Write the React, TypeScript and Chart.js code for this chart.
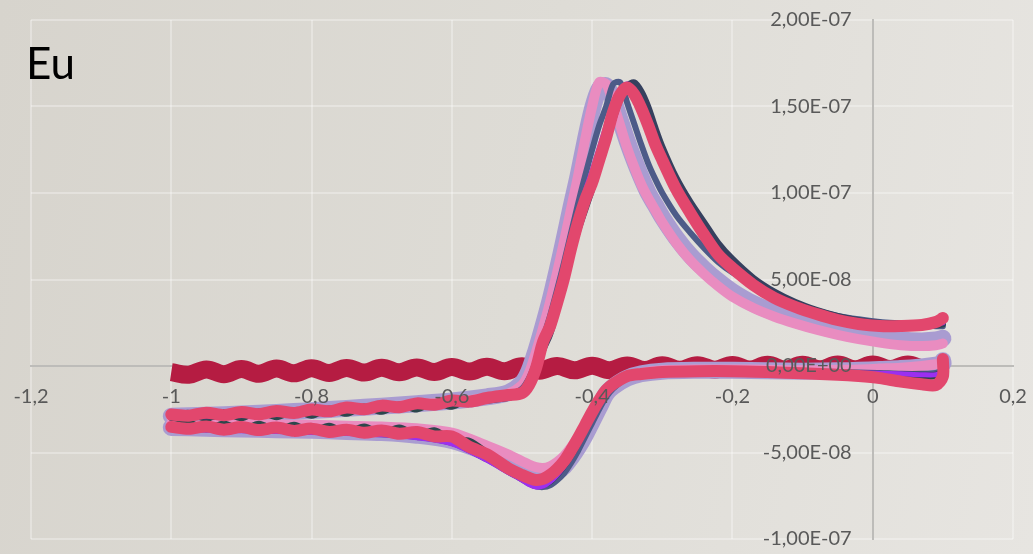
import React, { useEffect, useRef } from "react";
import { Chart, registerables } from "chart.js";

Chart.register(...registerables);

// Potentials (V) of the forward (anodic) and reverse (cathodic) sweeps
const anodicV = [-1.0, -0.95, -0.9, -0.85, -0.8, -0.75, -0.7, -0.65, -0.6, -0.55, -0.52, -0.5, -0.49, -0.48, -0.47, -0.46, -0.45, -0.44, -0.43, -0.42, -0.41, -0.4, -0.39, -0.38, -0.37, -0.36, -0.35, -0.34, -0.33, -0.32, -0.31, -0.3, -0.28, -0.26, -0.24, -0.22, -0.2, -0.17, -0.14, -0.11, -0.08, -0.05, -0.02, 0.01, 0.04, 0.07, 0.09, 0.1];
const cathodicV = [0.1, 0.1, 0.09, 0.07, 0.04, 0.01, -0.02, -0.05, -0.1, -0.15, -0.2, -0.25, -0.3, -0.33, -0.35, -0.37, -0.38, -0.39, -0.4, -0.41, -0.42, -0.43, -0.44, -0.45, -0.46, -0.47, -0.48, -0.49, -0.5, -0.52, -0.55, -0.6, -0.65, -0.7, -0.75, -0.8, -0.85, -0.9, -0.95, -1.0];
// Finer potentials for the rippled low-potential ends of the two top-most scans
const anodicLeftV = [-1.0, -0.975, -0.95, -0.925, -0.9, -0.875, -0.85, -0.825, -0.8, -0.775, -0.75, -0.725, -0.7, -0.675, -0.65, -0.625, -0.6, -0.575, -0.55];
const cathodicLeftV = [-0.55, -0.575, -0.6, -0.625, -0.65, -0.675, -0.7, -0.725, -0.75, -0.775, -0.8, -0.825, -0.85, -0.875, -0.9, -0.925, -0.95, -0.975, -1.0];

// Currents in units of 1E-08 A
// red scan: anodic from -0.52 V, cathodic down to -0.52 V, plus rippled ends
const redAnodicLeft = [-2.8, -2.87, -2.7, -2.84, -2.66, -2.79, -2.6, -2.72, -2.52, -2.62, -2.4, -2.5, -2.29, -2.38, -2.16, -2.24, -2.0, -2.06, -1.85];
const redAnodic = [-1.68, -1.56, -1.1, -0.12, 1.39, 2.3, 3.64, 5.09, 6.8, 8.32, 9.6, 10.6, 11.9, 13.2, 14.7, 15.7, 16.1, 15.7, 14.9, 13.9, 12.8, 11.9, 10.2, 8.84, 7.57, 6.42, 5.66, 4.68, 3.93, 3.41, 3.0, 2.66, 2.43, 2.31, 2.31, 2.37, 2.54, 2.77];
const redCathodic = [0.4, -0.6, -1.1, -1.05, -0.9, -0.7, -0.58, -0.5, -0.42, -0.35, -0.3, -0.3, -0.35, -0.46, -0.58, -1.04, -1.39, -1.97, -2.66, -3.41, -4.16, -4.86, -5.49, -5.95, -6.3, -6.53, -6.59, -6.47, -6.3, -5.9];
const redCathodicLeft = [-5.1, -4.68, -4.08, -4.07, -3.82, -3.92, -3.73, -3.86, -3.68, -3.81, -3.62, -3.75, -3.56, -3.7, -3.53, -3.68, -3.5, -3.63, -3.52];

const tealAnodicLeft = [-2.9, -2.71, -3.06, -2.68, -3.02, -2.63, -2.96, -2.56, -2.88, -2.46, -2.76, -2.34, -2.65, -2.22, -2.52, -2.08, -2.36, -1.9, -1.95];
const tealAnodic = [-1.8, -1.65, -1.25, -0.3, 1.1, 2.0, 3.4, 4.8, 6.5, 8.0, 9.3, 10.4, 11.7, 13.0, 14.5, 15.6, 16.2, 16.0, 15.3, 14.4, 13.3, 12.3, 10.6, 9.2, 8.0, 6.8, 5.95, 4.9, 4.1, 3.55, 3.1, 2.75, 2.5, 2.35, 2.3, 2.3, 2.35, 2.4];
const tealCathodic = [0.2, -0.4, -0.6, -0.6, -0.55, -0.5, -0.45, -0.4, -0.38, -0.35, -0.32, -0.32, -0.38, -0.5, -0.62, -1.1, -1.5, -2.1, -2.8, -3.6, -4.4, -5.1, -5.7, -6.2, -6.55, -6.8, -6.85, -6.7, -6.45, -6.0];
const tealCathodicLeft = [-5.0, -4.32, -4.24, -3.71, -3.98, -3.56, -3.89, -3.5, -3.84, -3.45, -3.78, -3.39, -3.72, -3.34, -3.69, -3.32, -3.66, -3.27, -3.42];

const purpleAnodic = [-2.95, -2.88, -2.8, -2.72, -2.62, -2.5, -2.36, -2.24, -2.1, -1.9, -1.75, -1.45, -0.9, 0.2, 1.7, 2.7, 4.0, 5.6, 7.3, 8.8, 10.1, 11.3, 12.6, 13.9, 15.2, 16.0, 16.3, 15.8, 14.9, 13.9, 12.8, 11.8, 10.1, 8.7, 7.5, 6.4, 5.6, 4.65, 3.9, 3.4, 3.0, 2.7, 2.5, 2.4, 2.4, 2.4, 2.45, 2.5];
const purpleCathodic = [0.3, -0.3, -0.5, -0.5, -0.45, -0.42, -0.4, -0.38, -0.35, -0.32, -0.3, -0.3, -0.35, -0.48, -0.62, -1.15, -1.55, -2.15, -2.85, -3.65, -4.45, -5.2, -5.8, -6.3, -6.7, -6.95, -7.0, -6.85, -6.6, -6.15, -5.45, -4.5, -4.15, -3.98, -3.9, -3.84, -3.78, -3.74, -3.7, -3.65];

const navyAnodic = [-3.0, -2.95, -2.88, -2.8, -2.7, -2.58, -2.45, -2.32, -2.2, -2.0, -1.85, -1.6, -1.2, -0.4, 0.9, 1.8, 3.2, 4.6, 6.4, 7.8, 9.0, 10.2, 11.5, 12.8, 14.2, 15.4, 16.2, 16.4, 15.9, 15.0, 13.8, 12.7, 10.9, 9.5, 8.3, 7.1, 6.2, 5.1, 4.3, 3.7, 3.25, 2.9, 2.65, 2.5, 2.45, 2.4, 2.4, 2.45];
const navyCathodic = [0.1, -0.3, -0.5, -0.5, -0.48, -0.45, -0.42, -0.4, -0.36, -0.33, -0.3, -0.3, -0.35, -0.5, -0.65, -1.2, -1.6, -2.2, -2.9, -3.7, -4.5, -5.2, -5.8, -6.3, -6.7, -6.9, -6.95, -6.8, -6.55, -6.1, -5.4, -4.45, -4.1, -3.95, -3.86, -3.8, -3.75, -3.7, -3.66, -3.62];

const slateAnodic = [-2.9, -2.85, -2.78, -2.7, -2.6, -2.48, -2.36, -2.24, -2.08, -1.88, -1.7, -1.3, -0.7, 0.3, 1.6, 2.9, 4.4, 6.0, 7.7, 9.4, 11.0, 12.5, 13.9, 15.0, 16.3, 16.4, 15.2, 14.0, 12.8, 11.7, 10.8, 10.0, 8.7, 7.7, 6.8, 6.0, 5.4, 4.7, 4.1, 3.6, 3.2, 2.9, 2.7, 2.55, 2.45, 2.35, 2.3, 2.3];
const slateCathodic = [0.2, -0.2, -0.4, -0.45, -0.45, -0.4, -0.38, -0.35, -0.32, -0.3, -0.28, -0.28, -0.35, -0.5, -0.7, -1.3, -1.8, -2.5, -3.3, -4.1, -4.9, -5.6, -6.2, -6.6, -6.9, -7.0, -6.95, -6.75, -6.5, -6.0, -5.3, -4.4, -4.05, -3.9, -3.82, -3.76, -3.72, -3.68, -3.64, -3.6];

const pinkAnodic = [-2.95, -2.9, -2.82, -2.72, -2.62, -2.5, -2.37, -2.22, -2.06, -1.84, -1.6, -1.1, -0.4, 0.8, 2.2, 3.7, 5.4, 7.2, 9.1, 11.0, 13.1, 15.0, 16.4, 16.3, 15.2, 13.9, 12.6, 11.5, 10.5, 9.7, 9.0, 8.3, 7.1, 6.1, 5.3, 4.6, 4.0, 3.35, 2.85, 2.45, 2.1, 1.8, 1.55, 1.35, 1.2, 1.15, 1.2, 1.3];
const pinkCathodic = [0.4, 0.2, 0.1, 0.0, -0.1, -0.15, -0.2, -0.22, -0.25, -0.22, -0.2, -0.2, -0.25, -0.4, -0.6, -1.0, -1.4, -2.0, -2.7, -3.4, -4.1, -4.7, -5.2, -5.55, -5.8, -5.9, -5.85, -5.7, -5.5, -5.1, -4.6, -3.85, -3.6, -3.5, -3.45, -3.4, -3.38, -3.35, -3.32, -3.3];

const lavenderAnodic = [-2.9, -2.85, -2.78, -2.68, -2.58, -2.45, -2.32, -2.18, -2.02, -1.78, -1.55, -1.0, -0.3, 0.9, 2.3, 3.8, 5.5, 7.3, 9.2, 11.0, 13.0, 14.8, 16.0, 16.2, 15.4, 14.2, 13.0, 11.9, 10.9, 10.0, 9.3, 8.6, 7.4, 6.4, 5.6, 4.9, 4.3, 3.6, 3.1, 2.7, 2.35, 2.05, 1.85, 1.65, 1.5, 1.45, 1.5, 1.6];
const lavenderCathodic = [0.3, 0.15, 0.05, -0.05, -0.15, -0.2, -0.25, -0.28, -0.3, -0.28, -0.25, -0.25, -0.3, -0.45, -0.7, -1.2, -1.6, -2.4, -3.2, -4.0, -4.7, -5.3, -5.8, -6.1, -6.3, -6.35, -6.3, -6.1, -5.9, -5.5, -5.0, -4.3, -4.0, -3.85, -3.78, -3.72, -3.68, -3.64, -3.6, -3.55];

// Blank scan (flat, rippled band near zero)
const blankV = [-1.0, -0.975, -0.95, -0.925, -0.9, -0.875, -0.85, -0.825, -0.8, -0.775, -0.75, -0.725, -0.7, -0.675, -0.65, -0.625, -0.6, -0.575, -0.55, -0.525, -0.5, -0.475, -0.45, -0.425, -0.4, -0.375, -0.35, -0.325, -0.3, -0.275, -0.25, -0.225, -0.2, -0.175, -0.15, -0.125, -0.1, -0.075, -0.05, -0.025, 0.0, 0.025, 0.05, 0.075, 0.1];
const blankI = [-0.35, -0.5, -0.2, -0.47, -0.18, -0.45, -0.15, -0.42, -0.13, -0.4, -0.11, -0.38, -0.1, -0.36, -0.08, -0.34, -0.06, -0.32, -0.04, -0.3, -0.02, -0.27, 0.0, -0.25, 0.02, -0.24, 0.03, -0.23, 0.04, -0.22, 0.05, -0.21, 0.06, -0.2, 0.07, -0.2, 0.07, -0.19, 0.08, -0.19, 0.08, -0.18, 0.09, -0.18, 0.05];

const xTickValues = [-1.2, -1, -0.8, -0.6, -0.4, -0.2, 0, 0.2];
const yTickValues = [-1e-7, -5e-8, 0, 5e-8, 1e-7, 1.5e-7, 2e-7];

const UNIT = 1e-8;

function toPoints(xs: number[], ys: number[]) {
  return xs.map((x, i) => ({ x, y: ys[i] * UNIT }));
}

function fmtY(v: number): string {
  if (Math.abs(v) < 1e-15) return "0,00E+00";
  const s = v.toExponential(2);
  const [m, e] = s.split("e");
  const sign = e[0] === "-" ? "-" : "+";
  const digits = e.replace(/^[+-]/, "").padStart(2, "0");
  return m.replace(".", ",") + "E" + sign + digits;
}

function fmtX(v: number): string {
  const r = Math.round(v * 10) / 10;
  if (Math.abs(r) < 1e-9) return "0";
  return String(r).replace(".", ",");
}

const zeroPadding = (scale: any) => {
  scale.paddingLeft = 0;
  scale.paddingRight = 0;
  scale.paddingTop = 0;
  scale.paddingBottom = 0;
};

// Put a gap between the y tick labels and the y axis that sits at x = 0
const yLabelGap = {
  id: "yLabelGap",
  beforeDraw(chart: any) {
    const s = chart.scales.y;
    if (!s) return;
    const items = s.getLabelItems();
    if ((items as any).__shifted) return;
    items.forEach((it: any) => {
      it.options.translation[0] -= 21;
    });
    (items as any).__shifted = true;
  },
};

export default function App() {
  const ref = useRef<HTMLCanvasElement | null>(null);

  useEffect(() => {
    if (!ref.current) return;
    const tailV = anodicV.slice(10); // from -0.52 V
    const headV = cathodicV.slice(0, 30); // down to -0.52 V
    const series: { branches: { x: number; y: number }[][]; color: string; w: number }[] = [
      {
        branches: [
          toPoints(anodicLeftV, redAnodicLeft).concat(toPoints(tailV, redAnodic)),
          toPoints(headV, redCathodic).concat(toPoints(cathodicLeftV, redCathodicLeft)),
        ],
        color: "#e2476d",
        w: 12,
      },
      { branches: [toPoints(anodicV, purpleAnodic), toPoints(cathodicV, purpleCathodic)], color: "#9b2ff0", w: 5 },
      { branches: [toPoints(anodicV, navyAnodic), toPoints(cathodicV, navyCathodic)], color: "#35405e", w: 6 },
      {
        branches: [
          toPoints(anodicLeftV, tealAnodicLeft).concat(toPoints(tailV, tealAnodic)),
          toPoints(headV, tealCathodic).concat(toPoints(cathodicLeftV, tealCathodicLeft)),
        ],
        color: "#2c474b",
        w: 6,
      },
      { branches: [toPoints(anodicV, slateAnodic), toPoints(cathodicV, slateCathodic)], color: "#4d5b88", w: 6 },
      { branches: [toPoints(anodicV, pinkAnodic), toPoints(cathodicV, pinkCathodic)], color: "#e98cc0", w: 10 },
      { branches: [toPoints(anodicV, lavenderAnodic), toPoints(cathodicV, lavenderCathodic)], color: "#a99cd1", w: 17 },
    ];
    const datasets: any[] = [];
    series.forEach((s) => {
      s.branches.forEach((pts) => {
        datasets.push({
          data: pts,
          showLine: true,
          borderColor: s.color,
          backgroundColor: s.color,
          borderWidth: s.w,
          pointRadius: 0,
          tension: 0.3,
          borderJoinStyle: "round",
          borderCapStyle: "round",
        });
      });
    });
    datasets.push({
      data: toPoints(blankV, blankI),
      showLine: true,
      borderColor: "#b51c42",
      backgroundColor: "#b51c42",
      borderWidth: 18,
      pointRadius: 0,
      tension: 0.4,
      borderJoinStyle: "round",
      borderCapStyle: "butt",
    });

    const tickFont = { family: "Lato", size: 20 };
    const gridColor = "rgba(255,255,255,0.3)";
    const chart = new Chart(ref.current, {
      type: "scatter",
      data: { datasets },
      plugins: [yLabelGap],
      options: {
        animation: false,
        responsive: false,
        maintainAspectRatio: false,
        layout: { padding: { left: 31, top: 20, right: 20, bottom: 15 } },
        plugins: { legend: { display: false }, tooltip: { enabled: false }, title: { display: false } },
        scales: {
          x: {
            type: "linear",
            position: { y: 0 } as any,
            min: -1.2,
            max: 0.2,
            afterBuildTicks: (scale: any) => {
              scale.ticks = xTickValues.map((v) => ({ value: v }));
            },
            afterFit: zeroPadding,
            ticks: {
              callback: (v: any) => fmtX(Number(v)),
              font: tickFont,
              color: "#595959",
              padding: 19,
              maxRotation: 0,
              autoSkip: false,
              z: 1,
            },
            grid: { color: gridColor, lineWidth: 2, drawTicks: false },
            border: { display: true, color: "#bdbcb9", width: 2 },
          },
          y: {
            type: "linear",
            position: { x: 0 } as any,
            min: -1e-7,
            max: 2e-7,
            afterBuildTicks: (scale: any) => {
              scale.ticks = yTickValues.map((v) => ({ value: v }));
            },
            afterFit: zeroPadding,
            ticks: {
              callback: (v: any) => fmtY(Number(v)),
              font: tickFont,
              color: "#595959",
              autoSkip: false,
              z: 1,
            },
            grid: { color: gridColor, lineWidth: 2, drawTicks: false },
            border: { display: true, color: "#bdbcb9", width: 2 },
          },
        },
      },
    });
    return () => chart.destroy();
  }, []);

  return (
    <div
      style={{
        position: "fixed",
        left: 0,
        top: 0,
        width: 1033,
        height: 554,
        background: "linear-gradient(100deg, #d7d4cd 0%, #dedcd6 50%, #e7e5e1 100%)",
        overflow: "hidden",
      }}
    >
      <canvas ref={ref} width={1033} height={554} style={{ display: "block", position: "absolute", left: 0, top: 0 }} />
      <div
        style={{
          position: "absolute",
          left: 26,
          top: 40,
          fontFamily: "Lato, sans-serif",
          fontSize: 44,
          lineHeight: 1,
          color: "#000",
        }}
      >
        Eu
      </div>
    </div>
  );
}
